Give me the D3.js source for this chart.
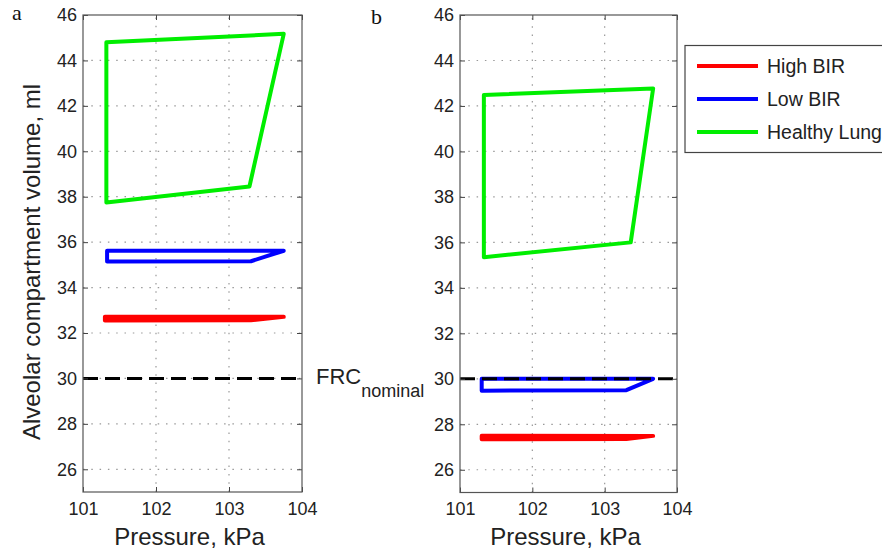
<!DOCTYPE html>
<html>
<head>
<meta charset="utf-8">
<script src="https://cdn.jsdelivr.net/npm/d3@7"></script>
<style>
  html, body { margin: 0; padding: 0; background: #fff; }
  svg { display: block; }
</style>
</head>
<body>
<svg id="chart" width="882" height="558" font-family="'Liberation Sans', Arial, Helvetica, sans-serif"></svg>
<script>
// ---------------- data ----------------
const xTicks = [101, 102, 103, 104];
const yTicks = [26, 28, 30, 32, 34, 36, 38, 40, 42, 44, 46];
const xDomain = [101, 104];
const yDomain = [25, 46];
const frcNominal = 30;
const seriesNames = ["High BIR", "Low BIR", "Healthy Lung"];
const panelLetters = ["a", "b"];

// loops: [pressure kPa, volume ml]
const highA = [[101.3, 32.55], [101.3, 32.72], [103.75, 32.71], [103.3, 32.56], [101.3, 32.55]];
const lowA = [[101.33, 35.15], [101.33, 35.62], [103.75, 35.62], [103.3, 35.16], [101.33, 35.15]];
const healthyA = [[101.32, 37.75], [101.32, 44.8], [103.75, 45.17], [103.28, 38.45], [101.32, 37.75]];

const highB = [[101.3, 27.34], [101.3, 27.5], [103.67, 27.49], [103.3, 27.35], [101.3, 27.34]];
const lowB = [[101.3, 29.48], [101.3, 30.0], [103.67, 30.0], [103.3, 29.5], [101.3, 29.48]];
const healthyB = [[101.33, 35.35], [101.33, 42.48], [103.67, 42.77], [103.36, 36.0], [101.33, 35.35]];

// ---------------- styles / layout ----------------
const colors = ["#ff0000", "#0000ff", "#00ee00"];
const panels = [
  { letter: panelLetters[0], x0: 83, x1: 302, y0: 492, y1: 15, series: [highA, lowA, healthyA], lx: 12, ly: 20 },
  { letter: panelLetters[1], x0: 460, x1: 677, y0: 492.5, y1: 15, series: [highB, lowB, healthyB], lx: 371, ly: 24 }
];

const svg = d3.select("#chart");
svg.append("rect").attr("width", 882).attr("height", 558).attr("fill", "#fff");

panels.forEach((p, pi) => {
  const x = d3.scaleLinear().domain(xDomain).range([p.x0, p.x1]);
  const y = d3.scaleLinear().domain(yDomain).range([p.y0, p.y1]);
  const g = svg.append("g");

  // grid (dotted)
  const gridX = xTicks.filter(v => v > xDomain[0] && v < xDomain[1]);
  const gridY = yTicks.filter(v => v > yDomain[0] && v < yDomain[1]);
  g.selectAll(".gx").data(gridX).join("line")
    .attr("x1", d => x(d)).attr("x2", d => x(d))
    .attr("y1", p.y0).attr("y2", p.y1)
    .attr("stroke", "#999").attr("stroke-width", 1.2).attr("stroke-dasharray", "1.5,6.8");
  g.selectAll(".gy").data(gridY).join("line")
    .attr("y1", d => y(d)).attr("y2", d => y(d))
    .attr("x1", p.x0).attr("x2", p.x1)
    .attr("stroke", "#999").attr("stroke-width", 1.2).attr("stroke-dasharray", "1.5,6.8");

  // data loops
  const line = d3.line().x(d => x(d[0])).y(d => y(d[1]));
  [2, 1, 0].forEach(si => {
    g.append("path").attr("d", line(p.series[si]))
      .attr("fill", "none").attr("stroke", colors[si])
      .attr("stroke-width", 4).attr("stroke-linejoin", "round").attr("stroke-linecap", "round");
  });

  // FRC nominal dashed
  g.append("line")
    .attr("x1", x(xDomain[0])).attr("x2", x(xDomain[1]))
    .attr("y1", y(frcNominal)).attr("y2", y(frcNominal))
    .attr("stroke", "#000").attr("stroke-width", 3).attr("stroke-dasharray", "15,7");

  // axes
  const fmt = d3.format("d");
  const ax = g.append("g").attr("transform", `translate(${p.x0},0)`)
    .call(d3.axisLeft(y).tickValues(yTicks).tickSizeInner(-5).tickSizeOuter(0).tickPadding(6).tickFormat(fmt));
  const bx = g.append("g").attr("transform", `translate(0,${p.y0})`)
    .call(d3.axisBottom(x).tickValues(xTicks).tickSizeInner(-5).tickSizeOuter(0).tickPadding(10).tickFormat(fmt));
  const rx = g.append("g").attr("transform", `translate(${p.x1},0)`)
    .call(d3.axisRight(y).tickValues(yTicks).tickSizeInner(-5).tickSizeOuter(0).tickFormat(""));
  const tx = g.append("g").attr("transform", `translate(0,${p.y1})`)
    .call(d3.axisTop(x).tickValues(xTicks).tickSizeInner(-5).tickSizeOuter(0).tickFormat(""));
  [ax, bx, rx, tx].forEach(a => {
    a.attr("font-family", null);
    a.select(".domain").remove();
    a.selectAll("line").attr("stroke", "#444");
    a.selectAll("text").attr("font-size", 18).attr("fill", "#222");
  });

  // box
  g.append("rect").attr("x", p.x0).attr("y", p.y1)
    .attr("width", p.x1 - p.x0).attr("height", p.y0 - p.y1)
    .attr("fill", "none").attr("stroke", "#555").attr("stroke-width", 1.2);

  // x label
  g.append("text").attr("x", (p.x0 + p.x1) / 2 - 3).attr("y", 545)
    .attr("text-anchor", "middle").attr("font-size", 24).attr("fill", "#222")
    .text("Pressure, kPa");

  // panel letter
  svg.append("text").attr("x", p.lx).attr("y", p.ly)
    .attr("font-family", "'Liberation Serif', 'Times New Roman', serif")
    .attr("font-size", 22).attr("fill", "#111").text(p.letter);
});

// y label
svg.append("text")
  .attr("transform", "translate(40,262) rotate(-90)")
  .attr("text-anchor", "middle").attr("font-size", 24).attr("fill", "#222")
  .text("Alveolar compartment volume, ml");

// FRC nominal annotation
const frc = svg.append("text").attr("x", 316).attr("y", 383.5).attr("fill", "#222");
frc.append("tspan").attr("font-size", 22).text("FRC");
frc.append("tspan").attr("font-size", 18).attr("dy", 13).text("nominal");

// legend
const lg = svg.append("g");
lg.append("rect").attr("x", 685).attr("y", 45.5).attr("width", 230).attr("height", 107)
  .attr("fill", "#fff").attr("stroke", "#444").attr("stroke-width", 1.2);
const legendY = d3.scalePoint().domain(seriesNames).range([66, 132]);
seriesNames.forEach((name, i) => {
  lg.append("line").attr("x1", 697).attr("x2", 758)
    .attr("y1", legendY(name)).attr("y2", legendY(name))
    .attr("stroke", colors[i]).attr("stroke-width", 4);
  lg.append("text").attr("x", 767).attr("y", legendY(name) + 7)
    .attr("font-size", 19.5).attr("fill", "#222").text(name);
});
</script>
</body>
</html>
